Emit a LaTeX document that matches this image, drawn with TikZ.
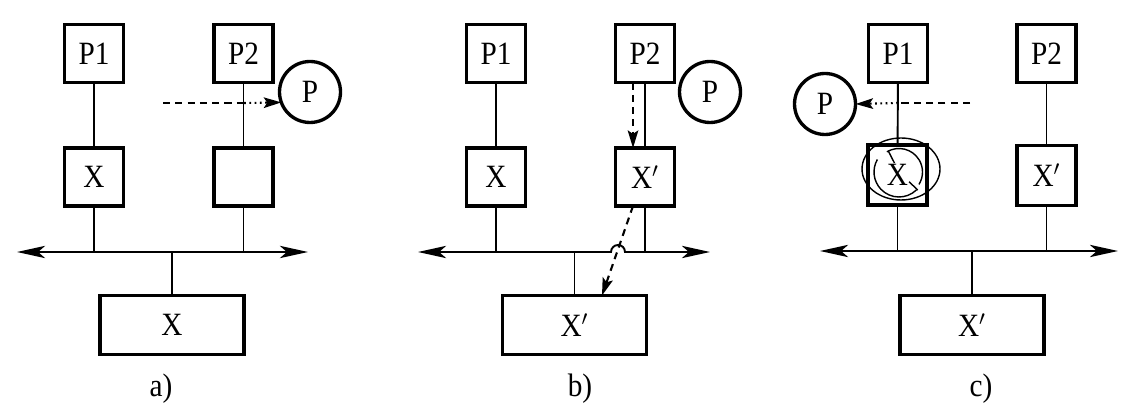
\documentclass[tikz,border=0pt]{standalone}
\usepackage{fontspec}
\setmainfont{Liberation Serif}[FakeStretch=0.9]
\usetikzlibrary{arrows.meta}
\begin{document}
\begin{tikzpicture}[x=0.02cm,y=0.02cm,
  lbl/.style={font=\fontsize{18.5}{20}\selectfont},
  box/.style={draw, line width=2.2pt, minimum width=1.18cm, minimum height=1.16cm, inner sep=0pt, outer sep=0pt, lbl},
  bigbox/.style={box, minimum width=2.88cm, minimum height=1.18cm},
  pcirc/.style={circle, draw, line width=1.9pt, minimum size=1.22cm, inner sep=0pt, outer sep=0pt, lbl},
  wire/.style={line width=1.1pt},
  bus/.style={wire, {Stealth[length=16pt,width=7pt,inset=4pt]}-{Stealth[length=16pt,width=7pt,inset=4pt]}},
  dsh/.style={line width=1.2pt, dash pattern=on 4pt off 3pt},
  dtt/.style={line width=1.2pt, dash pattern=on 1pt off 2pt},
  arr/.style={-{Stealth[length=10pt,width=6pt,inset=2pt]}},
  thinc/.style={line width=0.8pt}
]
\useasboundingbox (0,0) rectangle (1121,405);

% ---------- panel a ----------
\node[box] (P1a) at (94,351.5) {P1};
\node[box] (P2a) at (243.5,351.5) {P2};
\node[box] (Xa) at (94,228) {X};
\node[box] (Ea) at (243.5,228) {};
\node[bigbox] (Ba) at (172,80) {X};
\node[pcirc] (Pa) at (310,313) {P};
\coordinate (La) at (17,153);
\coordinate (Ra) at (308,153);
\draw[bus] (La) -- (Ra);
\draw[wire] (P1a) -- (Xa);
\draw[wire] (Xa) -- (Xa|-La);
\draw[wire] (P2a) -- (Ea);
\draw[wire] (Ea) -- (Ea|-La);
\draw[wire] (Ba.north) -- (Ba.north|-La);
\coordinate (Sa) at (163,302);
\coordinate (Ma) at (244,302);
\draw[dsh] (Sa) -- (Ma);
\draw[dtt,arr] (Ma) -- (Pa.200);
\node[lbl] (la) at (161,16) {a)};

% ---------- panel b ----------
\node[box] (P1b) at (496,351.5) {P1};
\node[box] (P2b) at (645,351.5) {P2};
\node[box] (Xb) at (496,228) {X};
\node[box] (Xpb) at (645,228) {X$'$};
\node[bigbox] (Bb) at (574.5,80) {X$'$};
\node[pcirc] (Pb) at (710,313) {P};
\coordinate (Lb) at (418,153);
\coordinate (Rb) at (710,153);
\draw[bus] (Lb) -- (611,153) arc[start angle=180, end angle=0, radius=0.14cm] -- (Rb);
\draw[wire] (P1b) -- (Xb);
\draw[wire] (Xb) -- (Xb|-Lb);
\draw[wire] (P2b) -- (Xpb);
\draw[wire] (Xpb) -- (Xpb|-Lb);
\draw[wire] (Bb.north) -- (Bb.north|-Lb);
\draw[dsh,arr] ([xshift=-0.24cm]P2b.south) -- ([xshift=-0.24cm]Xpb.north);
\draw[dsh,arr] ([xshift=-0.24cm]Xpb.south) -- ([xshift=0.55cm]Bb.north);
\node[lbl] (lb) at (580,16) {b)};

% ---------- panel c ----------
\node[box] (P1c) at (898,351.5) {P1};
\node[box] (P2c) at (1046.5,351.5) {P2};
\node[box, minimum height=1.2cm] (Xc) at (897.5,230) {X};
\node[box, minimum height=1.2cm] (Xpc) at (1046.5,229.5) {X$'$};
\node[bigbox] (Bc) at (972,80) {X$'$};
\node[pcirc] (Pc) at (825,301) {P};
\coordinate (Lc) at (820,154);
\coordinate (Rc) at (1118,154);
\draw[bus] (Lc) -- (Rc);
\draw[wire] (P1c) -- (Xc);
\draw[wire] (Xc) -- (Xc|-Lc);
\draw[wire] (P2c) -- (Xpc);
\draw[wire] (Xpc) -- (Xpc|-Lc);
\draw[wire] (Bc.north) -- (Bc.north|-Lc);
\coordinate (Sc) at (970,302);
\coordinate (Mc) at (898,302);
\draw[dsh] (Sc) -- (Mc);
\draw[dtt,arr] (Mc) -- (Pc.east);
% crossed-out mark over X
\draw[thinc] (901,236) ellipse[x radius=0.78cm, y radius=0.62cm];
\draw[thinc] (899,233) ++(121:0.47cm) arc[start angle=121, end angle=-32, radius=0.47cm];
\draw[thinc] (899,233) ++(-46:0.5cm) arc[start angle=-46, end angle=-210, radius=0.5cm];
\draw[thinc] (899,233) ++(117:0.2cm) -- ++(117:0.28cm);
\draw[thinc] (899,233) ++(-44:0.28cm) -- ++(-44:0.24cm);
\node[lbl] (lc) at (981,16) {c)};
\end{tikzpicture}
\end{document}
